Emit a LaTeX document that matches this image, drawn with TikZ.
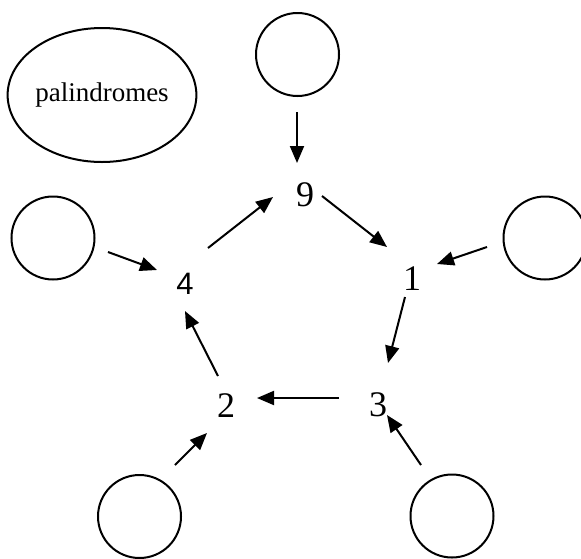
\documentclass[tikz,border=0pt]{standalone}
\usepackage{fontspec}
\setmainfont{Liberation Serif}
\newfontfamily\digitsans{Liberation Sans}
\usetikzlibrary{arrows.meta,shapes.geometric}

\tikzset{
  ring/.style={circle,draw,line width=2pt,minimum size=83pt,inner sep=0pt},
  oval/.style={ellipse,draw,line width=2pt,minimum width=180pt,minimum height=134pt,inner sep=0pt,
    font=\fontsize{27pt}{30pt}\selectfont},
  num/.style={inner sep=0pt,font=\fontsize{36pt}{40pt}\selectfont},
  link/.style={line width=2pt,-{Triangle[length=17pt,width=14pt]}}
}

\begin{document}
\begin{tikzpicture}[x=1pt,y=-1pt]
  \useasboundingbox (0,0) rectangle (581,558);
  \begin{scope}
    \clip (0,0) rectangle (581,558);

    % label bubble
    \node[oval] (pal) at (102,95) {palindromes};

    % empty outer circles
    \node[ring] (cT)  at (297.5,54.5) {};
    \node[ring] (cR)  at (545,238) {};
    \node[ring] (cL)  at (53,238) {};
    \node[ring] (cBL) at (139.5,516.5) {};
    \node[ring] (cBR) at (452,516) {};

    % numbers of the cycle
    \node[num] (n9) at (305,195) {9};
    \node[num] (n1) at (412,279) {1};
    \node[num] (n3) at (378,405) {3};
    \node[num] (n2) at (226,406) {2};
    \node[num,font=\digitsans\fontsize{31pt}{34pt}\selectfont] (n4) at (185,284) {4};

    % cycle arrows
    \draw[link] ([shift={(17,1)}]n9.center)   -- ([shift={(-25,-32)}]n1.center);
    \draw[link] ([shift={(-7,18)}]n1.center)  -- ([shift={(10,-42)}]n3.center);
    \draw[link] ([shift={(-39,-7)}]n3.center) -- ([shift={(31,-8)}]n2.center);
    \draw[link] ([shift={(-8,-30)}]n2.center) -- ([shift={(0,27)}]n4.center);
    \draw[link] ([shift={(23,-36)}]n4.center) -- ([shift={(-32,2)}]n9.center);

    % arrows from the outer circles
    \draw[link] ([shift={(-0.5,57.5)}]cT.center)  -- ([shift={(-8,-32)}]n9.center);
    \draw[link] ([shift={(-58,9)}]cR.center)      -- ([shift={(25,-15)}]n1.center);
    \draw[link] ([shift={(-31,-51)}]cBR.center)   -- ([shift={(9,10)}]n3.center);
    \draw[link] ([shift={(35.5,-51.5)}]cBL.center) -- ([shift={(-19,27)}]n2.center);
    \draw[link] ([shift={(55,14)}]cL.center)      -- ([shift={(-28,-14)}]n4.center);
  \end{scope}
\end{tikzpicture}
\end{document}
